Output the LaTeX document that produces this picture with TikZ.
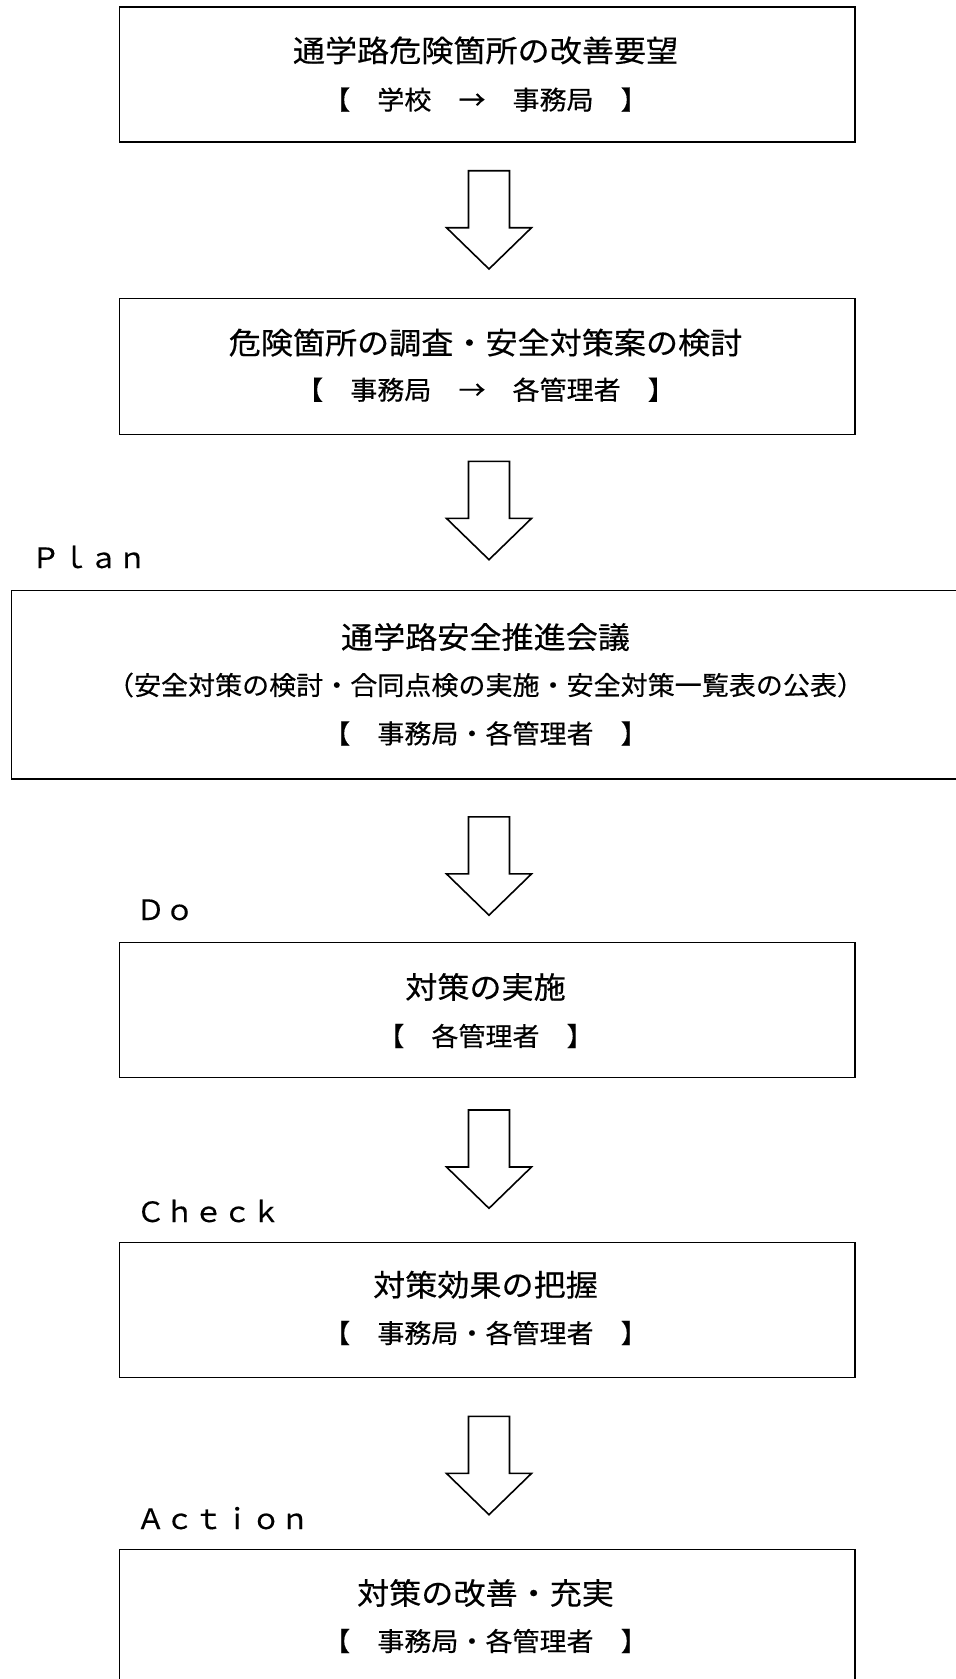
\documentclass[tikz,border=0pt]{standalone}
\usepackage{fontspec}
\newfontfamily\jpt[FakeStretch=1.07,FakeBold=0.4]{Noto Sans CJK JP}
\newfontfamily\jps[FakeStretch=1.04,FakeBold=0.4]{Noto Sans CJK JP}
\newfontfamily\jpl[FakeStretch=1.03,FakeBold=0.3]{Noto Sans CJK JP}
\tikzset{
  boxline/.style={draw=black, line width=1pt, inner sep=0pt, anchor=north west},
  titletext/.style={font=\jpt\fontsize{22.5pt}{26pt}\selectfont, inner sep=0pt, anchor=base},
  subtext/.style={font=\jps\fontsize{19.5pt}{23pt}\selectfont, inner sep=0pt, anchor=base},
  phase/.style={font=\jpl\fontsize{21pt}{24pt}\selectfont, inner sep=0pt, anchor=base west},
  blockarrow/.pic={\draw[line width=1.2pt, line join=miter]
    (-20.5,0) -- (20.5,0) -- (20.5,57) -- (42.5,57) -- (0,98.3) -- (-42.5,57) -- (-20.5,57) -- cycle;}
}
\begin{document}
\begin{tikzpicture}[x=0.75pt,y=-0.75pt]
\useasboundingbox (0,0) rectangle (956,1679);
\clip (0,0) rectangle (956,1679);
\fill[white] (0,0) rectangle (956,1679);

% boxes
\node[boxline, minimum width=551.6pt, minimum height=101.2pt] (b1) at (118.8,6.4) {};
\node[boxline, minimum width=551.6pt, minimum height=102pt]   (b2) at (118.8,297.6) {};
\node[boxline, minimum width=720pt,   minimum height=141.2pt] (b3) at (10.7,590) {};
\node[boxline, minimum width=551.6pt, minimum height=101.25pt] (b4) at (118.8,942) {};
\node[boxline, minimum width=551.6pt, minimum height=101.1pt] (b5) at (118.8,1242) {};
\node[boxline, minimum width=551.6pt, minimum height=113.25pt] (b6) at (118.8,1549) {};

% texts
\node[titletext] (t1) at (485.5,61.8) {通学路危険箇所の改善要望};
\node[subtext]   (s1) at (485.5,109.5) {【　学校　→　事務局　】};

\node[titletext] (t2) at (485.5,354) {危険箇所の調査・安全対策案の検討};
\node[subtext]   (s2) at (485.5,399.6) {【　事務局　→　各管理者　】};

\node[titletext] (t3) at (485.5,648.4) {通学路安全推進会議};
\node[subtext]   (s3a) at (485.5,694.9) {（安全対策の検討・合同点検の実施・安全対策一覧表の公表）};
\node[subtext]   (s3b) at (485.5,743.3) {【　事務局・各管理者　】};

\node[titletext] (t4) at (485.5,998.4) {対策の実施};
\node[subtext]   (s4) at (485.5,1045.9) {【　各管理者　】};

\node[titletext] (t5) at (485.5,1296.1) {対策効果の把握};
\node[subtext]   (s5) at (485.5,1342.9) {【　事務局・各管理者　】};

\node[titletext] (t6) at (485.5,1604.4) {対策の改善・充実};
\node[subtext]   (s6) at (485.5,1650.9) {【　事務局・各管理者　】};

% phase labels
\node[phase] (plan)   at (31,568)    {Ｐｌａｎ};
\node[phase] (do)     at (136,920)   {Ｄｏ};
\node[phase] (check)  at (136,1222)  {Ｃｈｅｃｋ};
\node[phase] (action) at (136,1529)  {Ａｃｔｉｏｎ};

% block arrows
\pic at (489,170.7)  {blockarrow};
\pic at (489,461.4)  {blockarrow};
\pic at (489,816.9)  {blockarrow};
\pic at (489,1110)   {blockarrow};
\pic at (489,1416.4) {blockarrow};
\end{tikzpicture}
\end{document}
